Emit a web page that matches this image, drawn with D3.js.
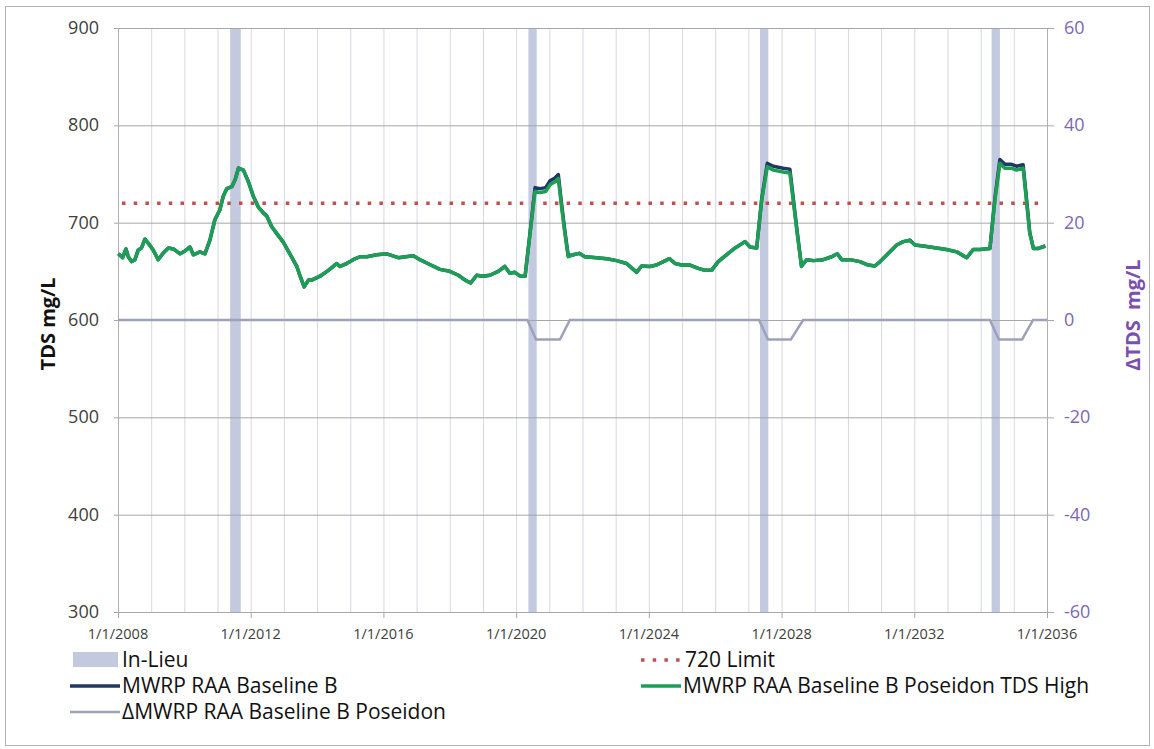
<!DOCTYPE html>
<html>
<head>
<meta charset="utf-8">
<script src="https://cdn.jsdelivr.net/npm/d3@7"></script>
<style>
  body { margin: 0; background: #fff; }
  text { font-family: "Open Sans", "Liberation Sans", sans-serif; }
</style>
</head>
<body>
<div id="chart"></div>
<script>
// decimal years for the two TDS series
const dates = [
  2008.01, 2008.14, 2008.24, 2008.31, 2008.41, 2008.51, 2008.61, 2008.71, 2008.81, 2008.91,
  2009.06, 2009.21, 2009.37, 2009.52, 2009.67, 2009.87, 2010.02, 2010.17, 2010.27, 2010.47,
  2010.62, 2010.77, 2010.92, 2011.07, 2011.17, 2011.28, 2011.43, 2011.53, 2011.63, 2011.78,
  2011.93, 2012.08, 2012.23, 2012.38, 2012.48, 2012.63, 2012.78, 2012.98, 2013.18, 2013.39,
  2013.49, 2013.61, 2013.74, 2013.84, 2014.09, 2014.34, 2014.59, 2014.69, 2014.89, 2015.09,
  2015.29, 2015.5, 2015.8, 2016.1, 2016.45, 2016.9, 2017.1, 2017.4, 2017.7, 2018.0,
  2018.26, 2018.46, 2018.63, 2018.81, 2019.0, 2019.21, 2019.46, 2019.66, 2019.81, 2019.96,
  2020.12, 2020.27, 2020.42, 2020.57, 2020.72, 2020.89, 2021.02, 2021.17, 2021.27, 2021.37,
  2021.47, 2021.57, 2021.72, 2021.9, 2022.07, 2022.43, 2022.73, 2023.03, 2023.33, 2023.53,
  2023.63, 2023.78, 2024.03, 2024.23, 2024.44, 2024.62, 2024.79, 2024.99, 2025.24, 2025.49,
  2025.69, 2025.89, 2026.09, 2026.34, 2026.6, 2026.9, 2027.05, 2027.25, 2027.4, 2027.57,
  2027.75, 2028.05, 2028.25, 2028.35, 2028.47, 2028.6, 2028.76, 2028.96, 2029.26, 2029.51,
  2029.68, 2029.81, 2030.06, 2030.36, 2030.61, 2030.81, 2030.97, 2031.22, 2031.47, 2031.67,
  2031.87, 2032.02, 2032.27, 2032.57, 2032.97, 2033.28, 2033.58, 2033.78, 2033.98, 2034.28,
  2034.43, 2034.58, 2034.73, 2034.93, 2035.08, 2035.28, 2035.38, 2035.48, 2035.59, 2035.74,
  2035.95
];

const baselineB = [
  668, 664, 673, 665, 660, 662, 672, 674, 683, 679,
  672, 662, 669, 674, 673, 668, 671, 675, 667, 670,
  668, 682, 703, 713, 727, 735, 737, 744, 756, 754,
  742, 727, 716, 710, 707, 696, 689, 680, 668, 655,
  645, 634, 641, 641, 645, 651, 658, 655, 658, 662,
  665, 665, 667, 668, 664, 666, 662, 657, 652, 650,
  646, 641, 638, 646, 645, 646, 650, 655, 648, 649,
  645, 645, 690, 736, 735, 736, 743, 746, 749.5, 719,
  691, 666, 667, 668.5, 665, 664, 663, 661, 658, 652,
  649, 655.5, 655, 656.5, 660, 663, 658, 656.5, 656.5, 653,
  651, 651, 660, 667, 674, 680.5, 675, 674, 724, 761,
  758, 756, 755, 726, 691, 655.5, 662, 661, 662, 665,
  668, 662, 662, 660, 656.5, 655.5, 660, 668.5, 677, 680.5,
  682, 677, 676, 674.5, 672.5, 670, 664, 672.5, 672.5, 673.5,
  725, 765, 760, 760, 758, 759.5, 725.5, 690, 673.5, 673.5,
  676
];

const poseidonHigh = [
  668, 664, 673, 665, 660, 662, 672, 674, 683, 679,
  672, 662, 669, 674, 673, 668, 671, 675, 667, 670,
  668, 682, 703, 713, 727, 735, 737, 744, 756, 754,
  742, 727, 716, 710, 707, 696, 689, 680, 668, 655,
  645, 634, 641, 641, 645, 651, 658, 655, 658, 662,
  665, 665, 667, 668, 664, 666, 662, 657, 652, 650,
  646, 641, 638, 646, 645, 646, 650, 655, 648, 649,
  645, 645, 689, 732, 731, 732, 739, 742, 745.5, 716,
  689, 665, 667, 668.5, 665, 664, 663, 661, 658, 652,
  649, 655.5, 655, 656.5, 660, 663, 658, 656.5, 656.5, 653,
  651, 651, 660, 667, 674, 680.5, 675, 674, 723, 757.5,
  754, 752, 751, 723, 689, 655, 662, 661, 662, 665,
  668, 662, 662, 660, 656.5, 655.5, 660, 668.5, 677, 680.5,
  682, 677, 676, 674.5, 672.5, 670, 664, 672.5, 672.5, 673.5,
  723, 761, 756, 756, 754, 756, 723, 689, 673.5, 673.5,
  676
];

// delta series (right axis)
const deltaDates  = [2008, 2020.34, 2020.6, 2021.32, 2021.62, 2027.32, 2027.59, 2028.28, 2028.65, 2034.28, 2034.55, 2035.25, 2035.58, 2036];
const deltaValues = [0, 0, -4, -4, 0, 0, -4, -4, 0, 0, -4, -4, 0, 0];

// in-lieu periods
const inLieuStart = [2011.38, 2020.37, 2027.35, 2034.33];
const inLieuEnd   = [2011.70, 2020.62, 2027.60, 2034.58];

const limitValue = 720;
const leftTicks  = [300, 400, 500, 600, 700, 800, 900];
const rightTicks = [-60, -40, -20, 0, 20, 40, 60];
const xTickYears = [2008, 2012, 2016, 2020, 2024, 2028, 2032, 2036];

const W = 1154, H = 749;
const margin = {top: 28, right: 107, bottom: 137, left: 118};

const svg = d3.select("#chart").append("svg")
  .attr("width", W).attr("height", H);

// outer frame
svg.append("rect")
  .attr("x", 5.5).attr("y", 6.5)
  .attr("width", W - 10).attr("height", H - 10)
  .attr("fill", "#fff").attr("stroke", "#b4b4b4");

const x = d3.scaleLinear().domain([2008, 2036]).range([margin.left, W - margin.right]);
const y = d3.scaleLinear().domain([300, 900]).range([H - margin.bottom, margin.top]);
const y2 = d3.scaleLinear().domain([-60, 60]).range([H - margin.bottom, margin.top]);

// vertical yearly gridlines
svg.append("g").selectAll("line")
  .data(d3.range(2009, 2036))
  .join("line")
  .attr("x1", d => x(d) + 0.5).attr("x2", d => x(d) + 0.5)
  .attr("y1", y(900)).attr("y2", y(300))
  .attr("stroke", "#d6d8e4").attr("stroke-width", 1);

// in-lieu bars
svg.append("g").selectAll("rect")
  .data(inLieuStart)
  .join("rect")
  .attr("x", (d, i) => x(d))
  .attr("width", (d, i) => x(inLieuEnd[i]) - x(d))
  .attr("y", y(900)).attr("height", y(300) - y(900))
  .attr("fill", "#c3cadf");

// horizontal gridlines with left/right tick stubs
svg.append("g").selectAll("line")
  .data(leftTicks)
  .join("line")
  .attr("x1", x(2008) - 4).attr("x2", x(2036) + 7)
  .attr("y1", d => y(d) + 0.5).attr("y2", d => y(d) + 0.5)
  .attr("stroke", "#a6a6a6").attr("stroke-width", 1);

// left / right axis lines
[2008, 2036].forEach(v => {
  svg.append("line")
    .attr("x1", x(v) + 0.5).attr("x2", x(v) + 0.5)
    .attr("y1", y(900)).attr("y2", y(300))
    .attr("stroke", "#b0b0b0");
});

// bottom ticks
svg.append("g").selectAll("line")
  .data(xTickYears)
  .join("line")
  .attr("x1", d => x(d) + 0.5).attr("x2", d => x(d) + 0.5)
  .attr("y1", y(300)).attr("y2", y(300) + 6)
  .attr("stroke", "#a6a6a6");

// left tick labels
svg.append("g").selectAll("text")
  .data(leftTicks)
  .join("text")
  .attr("x", x(2008) - 19).attr("y", d => y(d) + 6)
  .attr("text-anchor", "end")
  .attr("font-size", 18).attr("fill", "#404040")
  .text(d => d);

// right tick labels
svg.append("g").selectAll("text")
  .data(rightTicks)
  .join("text")
  .attr("x", x(2036) + 17).attr("y", d => y2(d) + 6)
  .attr("text-anchor", "start")
  .attr("font-size", 18).attr("fill", "#7b68b5")
  .text(d => d);

// bottom tick labels
svg.append("g").selectAll("text")
  .data(xTickYears)
  .join("text")
  .attr("x", d => x(d)).attr("y", y(300) + 27)
  .attr("text-anchor", "middle")
  .attr("font-size", 14.5).attr("fill", "#404040")
  .text(d => "1/1/" + d);

// axis titles
svg.append("text")
  .attr("transform", `translate(55,${y(596)}) rotate(-90)`)
  .attr("text-anchor", "middle")
  .attr("font-size", 20).attr("font-weight", "bold").attr("fill", "#111")
  .text("TDS mg/L");

svg.append("text")
  .attr("transform", `translate(1140,${y(605)}) rotate(-90)`)
  .attr("text-anchor", "middle")
  .attr("font-size", 20).attr("font-weight", "bold").attr("fill", "#7b4fb0")
  .attr("xml:space", "preserve").style("white-space", "pre")
  .text("\u0394TDS  mg/L");

// 720 limit
svg.append("line")
  .attr("x1", x(2008) + 4).attr("x2", x(2035.8))
  .attr("y1", y(limitValue)).attr("y2", y(limitValue))
  .attr("stroke", "#c0504d").attr("stroke-width", 3.5)
  .attr("stroke-dasharray", "3.5 8.2");

// delta line
const deltaLine = d3.line()
  .x((d, i) => x(deltaDates[i]))
  .y(d => y2(d));
svg.append("path")
  .datum(deltaValues)
  .attr("d", deltaLine)
  .attr("fill", "none")
  .attr("stroke", "#9fa0ba").attr("stroke-width", 2.5);

// TDS lines
const tdsLine = d3.line()
  .x((d, i) => x(dates[i]))
  .y(d => y(d));

svg.append("path")
  .datum(baselineB)
  .attr("d", tdsLine)
  .attr("fill", "none")
  .attr("stroke", "#1f3864").attr("stroke-width", 3.5)
  .attr("stroke-linejoin", "round");

svg.append("path")
  .datum(poseidonHigh)
  .attr("d", tdsLine)
  .attr("fill", "none")
  .attr("stroke", "#1d9e55").attr("stroke-width", 3.5)
  .attr("stroke-linejoin", "round");

// legend
const lg = svg.append("g").attr("font-size", 21).attr("fill", "#111");

lg.append("rect").attr("x", 73).attr("y", 652).attr("width", 45).attr("height", 15).attr("fill", "#c3cadf");
lg.append("text").attr("x", 122).attr("y", 667).text("In-Lieu");

lg.append("line").attr("x1", 70).attr("x2", 120).attr("y1", 686).attr("y2", 686)
  .attr("stroke", "#1f3864").attr("stroke-width", 3.5);
lg.append("text").attr("x", 122).attr("y", 693).text("MWRP RAA Baseline B");

lg.append("line").attr("x1", 70).attr("x2", 120).attr("y1", 712).attr("y2", 712)
  .attr("stroke", "#9fa0ba").attr("stroke-width", 2.5);
lg.append("text").attr("x", 122).attr("y", 719).text("\u0394MWRP RAA Baseline B Poseidon");

lg.append("line").attr("x1", 641).attr("x2", 681).attr("y1", 660).attr("y2", 660)
  .attr("stroke", "#c0504d").attr("stroke-width", 3.5)
  .attr("stroke-dasharray", "3.5 8.2");
lg.append("text").attr("x", 685).attr("y", 667).text("720 Limit");

lg.append("line").attr("x1", 641).attr("x2", 681).attr("y1", 686).attr("y2", 686)
  .attr("stroke", "#1d9e55").attr("stroke-width", 3.5);
lg.append("text").attr("x", 683).attr("y", 693).text("MWRP RAA Baseline B Poseidon TDS High");
</script>
</body>
</html>
